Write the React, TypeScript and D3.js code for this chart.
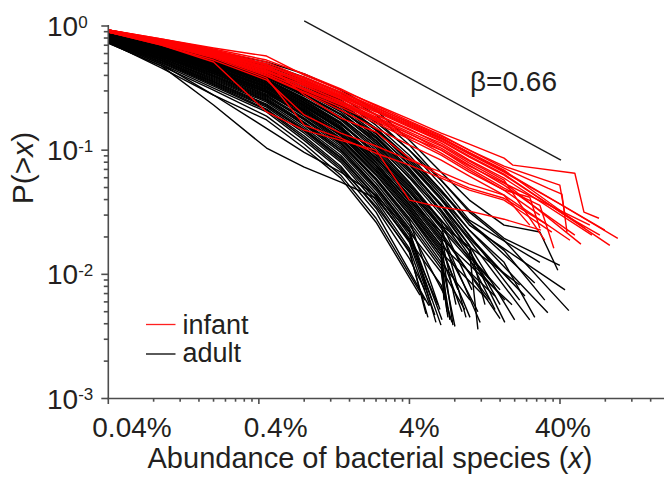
import React from 'react';
import * as d3 from 'd3';

const FONT = '"Liberation Sans", Arial, Helvetica, sans-serif';
const TEXT = '#231f20';
const AXIS = '#4d4d4d';

// x tick labels (abundance, %)
const xMajorValues = [0.04, 0.4, 4, 40];
const xTickLabels = ['0.04%', '0.4%', '4%', '40%'];
// y tick labels
const yMajorValues = [1, 0.1, 0.01, 0.001];
const yExponents = ['0', '-1', '-2', '-3'];

// common abundance grid (%) at which the CCDF curves were read
const gridAbundance = [0.04, 0.09, 0.2, 0.45, 0.8, 1.4, 2.4, 4, 6.5, 10, 17];

// adult curves: P(>x) on the grid
const adultP: number[][] = [
  [.928, .756, .629, .513, .411, .305, .210, .120, .0665, .0396, .0249],
  [.911, .743, .606, .494, .388, .289, .192, .110, .0573, .0317, .0188],
  [.911, .729, .595, .477, .367, .268, .175, .100, .0523, .0273],
  [.894, .716, .573, .459, .354, .253, .159, .0911, .0476, .0249],
  [.894, .716, .563, .442, .335, .240, .150, .0831, .0434, .0227],
  [.878, .703, .552, .426, .316, .222, .137, .0757, .0396, .0207],
  [.894, .690, .532, .411, .305, .210, .130, .0716, .0360, .0188],
  [.878, .690, .542, .402, .294, .203, .120, .0665, .0329, .0156],
  [.862, .677, .523, .395, .283, .195, .114, .0595, .0300, .0142],
  [.878, .677, .513, .381, .273, .185, .108, .0553, .0273, .0134],
  [.862, .665, .513, .374, .263, .175, .100, .0523, .0249],
  [.846, .653, .504, .367, .253, .168, .0945, .0476, .0235],
  [.862, .653, .494, .354, .249, .165, .0911, .0459, .0219],
  [.846, .641, .485, .347, .240, .156, .0862, .0434, .0207],
  [.846, .641, .477, .335, .231, .150, .0831, .0410, .0195],
  [.830, .629, .468, .328, .227, .145, .0786, .0396, .0188],
  [.846, .629, .459, .322, .218, .140, .0743, .0360, .0171],
  [.830, .617, .451, .316, .210, .135, .0716, .0347, .0162],
  [.830, .617, .442, .305, .203, .130, .0690, .0329, .0150],
  [.815, .606, .434, .299, .199, .125, .0665, .0317, .0142],
  [.830, .606, .426, .294, .192, .120, .0629, .0300, .0134],
  [.815, .595, .418, .289, .188, .116, .0595, .0283, .0125],
  [.815, .584, .411, .278, .181, .112, .0573, .0263, .0118],
  [.800, .584, .402, .273, .175, .108, .0542, .0249, .0111],
  [.800, .573, .395, .263, .168, .104, .0513, .0235],
  [.800, .563, .388, .258, .165, .100, .0494, .0219],
  [.785, .552, .381, .253, .159, .096, .0476, .0207],
  [.785, .552, .367, .244, .153, .0911, .0450, .0195],
  [.771, .542, .360, .235, .148, .0878, .0426, .0181],
  [.771, .532, .354, .231, .142, .0831, .0396, .0162],
  [.756, .523, .341, .222, .137, .0801, .0374, .0150],
  [.756, .513, .335, .214, .130, .0743, .0341, .0134],
  [.743, .494, .316, .203, .120, .0690, .0317],
  [.729, .477, .305, .188, .112, .0629, .0283],
  [.729, .477, .231, .104, .0729, .0553, .0410, .0188, .0082],
  [.743, .494, .278, .150, .096, .0665, .0434, .0219, .0104],
  [.743, .459, .278, .175, .104, .0595, .0263],
  [.894, .703, .563, .434, .328, .235, .145, .0801, .0410, .0203],
  [.878, .677, .532, .418, .311, .214, .127, .0690, .0354, .0171],
  [.862, .665, .504, .388, .278, .192, .118, .0629, .0317, .0156],
  [.846, .665, .513, .367, .258, .178, .104, .0542, .0263],
  [.846, .641, .494, .360, .244, .162, .096, .0494, .0245],
  [.830, .641, .477, .341, .235, .153, .0878, .0426, .0203],
  [.830, .617, .459, .322, .222, .148, .0801, .0382, .0181],
  [.815, .595, .442, .311, .214, .140, .0757, .0367, .0168],
  [.815, .606, .426, .294, .207, .132, .0690, .0335, .0156],
  [.800, .573, .411, .283, .195, .123, .0641, .0305, .0142],
  [.800, .573, .395, .268, .178, .114, .0584, .0273],
  [.785, .552, .374, .249, .162, .100, .0503, .0227],
  [.771, .532, .347, .227, .145, .0862, .0418, .0188],
  [.756, .504, .328, .210, .125, .0716, .0354, .0156],
  [.878, .690, .552, .442, .341, .249, .168, .100, .0573, .0329, .0195],
  [.862, .665, .532, .418, .316, .227, .150, .0862, .0476, .0263],
  [.878, .703, .542, .418, .316, .227, .145, .0831, .0459, .0263, .0156],
  [.862, .677, .532, .402, .299, .210, .135, .0771, .0410, .0227, .0125],
  [.846, .665, .513, .388, .283, .195, .125, .0690, .0367, .0195],
  [.862, .653, .494, .367, .263, .181, .110, .0606, .0329, .0171],
  [.830, .641, .477, .347, .240, .162, .096, .0513, .0273, .0156],
  [.815, .617, .459, .328, .227, .150, .0862, .0459, .0245],
  [.815, .606, .442, .305, .207, .135, .0757, .0396, .0219],
];

// adult curves: last points [abundance %, P] beyond the grid
const adultTail: number[][][] = [
  [[29.4, .0219], [38.7, .0108]],
  [[45.8, .0051]],
  [[29.4, .0125]],
  [[43.2, .0075]],
  [[33.2, .0049]],
  [[21.6, .0062]],
  [[25.2, .0043]],
  [[17.2, .0041]],
  [[16.0, .0075]],
  [[14.8, .0052]],
  [[21.6, .0082]],
  [[17.2, .0062]],
  [[16.0, .0044]],
  [[13.7, .0062]],
  [[19.2, .0057]],
  [[11.4, .0050]],
  [[14.8, .0067]],
  [[10.1, .0045]],
  [[13.3, .0062]],
  [[8.94, .0050]],
  [[8.02, .0038]],
  [[10.1, .0062]],
  [[7.43, .0043]],
  [[9.33, .0052]],
  [[6.89, .0067]],
  [[6.58, .0043]],
  [[6.48, .0039]],
  [[6.18, .0057]],
  [[5.90, .0047]],
  [[5.47, .0056]],
  [[5.31, .0045]],
  [[5.07, .0075]],
  [[5.39, .0056]],
  [[5.07, .0062]],
  [[7.66, .0041]],
  [[7.21, .0045]],
  [[4.70, .0068]],
  [[18.6, .0090]],
  [[12.7, .0057]],
  [[11.4, .0036]],
  [[10.4, .0075]],
  [[9.5, .0045]],
  [[8.15, .0057]],
  [[7.78, .0039]],
  [[8.40, .0075]],
  [[7.10, .0050]],
  [[6.78, .0062]],
  [[6.38, .0052]],
  [[6.00, .0041]],
  [[5.64, .0062]],
  [[5.15, .0048]],
  [[39.9, .0118]],
  [[27.2, .0085]],
  [[31.7, .0062]],
  [[27.2, .0045]],
  [[23.4, .0067]],
  [[20.0, .0043]],
  [[16.0, .0057]],
  [[14.1, .0087]],
  [[11.8, .0041]],
];

// infant curves: P(>x) on the grid
const infantP: number[][] = [
  [.928, .785, .665, .573, .402, .305, .231, .178, .137, .112, .0862],
  [.928, .771, .641, .513, .381, .289, .218, .168, .130, .100, .0716],
  [.911, .771, .629, .485, .367, .278, .210, .159, .123, .0928, .0665],
  [.911, .756, .617, .468, .354, .268, .203, .153, .118, .0878, .0629],
  [.928, .756, .606, .459, .341, .258, .192, .145, .114, .0831, .0595],
  [.911, .743, .595, .442, .328, .249, .185, .140, .108, .0786, .0553],
  [.911, .743, .584, .434, .316, .240, .178, .135, .104, .0757, .0523],
  [.894, .729, .584, .418, .305, .231, .171, .127, .100, .0716, .0494],
  [.894, .703, .513, .203, .145, .120, .100, .0396, .0347, .0323, .0278],
  [.894, .729, .573, .402, .294, .222, .165, .123, .0911, .0665, .0476],
  [.911, .743, .595, .426, .335, .244, .181, .135, .100, .0743, .0542],
  [.894, .703, .532, .367, .192, .137, .108, .0831, .0665, .0532, .0434],
  [.911, .716, .552, .381, .159, .125, .0945, .0757, .0595, .0476, .0396],
  [.928, .771, .641, .494, .374, .283, .214, .162, .125, .096, .0690],
  [.911, .756, .606, .451, .347, .263, .195, .148, .110, .0816, .0573],
  [.928, .771, .629, .477, .388, .294, .222, .165, .127, .0945, .0677],
  [.894, .716, .563, .395, .289, .210, .150, .110, .0831, .0618, .0434],
  [.911, .756, .617, .459, .360, .273, .207, .156, .120, .0894, .0641],
  [.928, .785, .653, .532, .411, .311, .227, .171, .132, .100, .0743],
  [.894, .729, .573, .411, .311, .235, .175, .130, .0945, .0690, .0476],
  [.911, .743, .606, .494, .278, .181, .140, .0862, .0618, .0494, .0410],
];

// infant curves: last points [abundance %, P]
const infantTail: number[][][] = [
  [[19.5, .0757], [50.2, .0652], [57.7, .0317], [72.6, .0283]],
  [[33.2, .0494], [41.2, .0442], [44.5, .0219]],
  [[41.2, .0360], [96.8, .0195]],
  [[43.2, .0300], [73.6, .0207]],
  [[65.2, .0207]],
  [[55.1, .0175]],
  [[50.2, .0207]],
  [[29.4, .0360], [36.4, .0162]],
  [[29.9, .0227]],
  [[25.2, .0418], [29.4, .0235]],
  [[63.2, .0249]],
  [[46.6, .0188]],
  [[35.3, .0219]],
  [[58.6, .0235]],
  [[31.7, .0188]],
  [[79.4, .0227]],
  [[25.2, .0249]],
  [[85.7, .0171]],
  [[39.9, .0523], [43.2, .0300]],
  [[29.4, .0300]],
  [[33.2, .0249]],
];

// reference slope line beta = 0.66
const slopeLine = [[0.8, 1.1], [40.6, 0.083]];
const slopeLabel = 'β=0.66';

const legendNames = ['infant', 'adult'];
const legendColors = ['#ff2020', '#000000'];

export default function App() {
  const W = 664;
  const H = 477;
  const x = d3.scaleLog().domain([0.04, 40]).range([108.3, 560]);
  const y = d3.scaleLog().domain([0.001, 1]).range([398.5, 26]);
  const xLab = d3.scaleLog().domain([0.04, 40]).range([132, 563]);
  const line = d3.line<number[]>().x((d) => x(d[0])).y((d) => y(d[1]));

  const build = (ps: number[][], tails: number[][][]) =>
    ps.map((row, i) => row.map((p, j) => [gridAbundance[j], p]).concat(tails[i]));
  const adult = build(adultP, adultTail);
  const infant = build(infantP, infantTail);

  const axisY = y(0.001);
  const axisX = x(0.04);
  const xEnd = W;

  const xMinor: number[] = [];
  [0.04, 0.4, 4, 40, 400].forEach((m) => {
    for (let k = 2; k <= 9; k++) {
      const v = m * k;
      if (x(v) <= xEnd) xMinor.push(v);
    }
  });
  const isMajor = (v: number) => Math.abs(Math.log10(v) - Math.round(Math.log10(v))) < 1e-6;
  const yMinor = y.ticks().filter((v) => !isMajor(v));

  return (
    <svg
      width={W}
      height={H}
      style={{ position: 'absolute', left: 0, top: 0, background: '#fff' }}
      fontFamily={FONT}
    >
      <rect x={0} y={0} width={W} height={H} fill="#fff" />
      <g fill="none" strokeWidth={1.4} strokeLinejoin="round">
        {adult.map((pts, i) => (
          <path key={'a' + i} d={line(pts) || ''} stroke="#000" />
        ))}
        {infant.map((pts, i) => (
          <path key={'i' + i} d={line(pts) || ''} stroke="#ff0000" />
        ))}
      </g>
      <path d={line(slopeLine) || ''} stroke="#1a1a1a" strokeWidth={1.4} fill="none" />
      <text x={470} y={91} fontSize={28} fill={TEXT}>{slopeLabel}</text>

      {/* axes */}
      <g stroke={AXIS} strokeWidth={1.6}>
        <line x1={axisX} x2={axisX} y1={y(1) - 1} y2={axisY + 0.8} />
        <line x1={axisX - 0.8} x2={xEnd} y1={axisY} y2={axisY} />
        {xMajorValues.map((v) => (
          <line key={'xm' + v} x1={x(v)} x2={x(v)} y1={axisY} y2={axisY + 5.5} />
        ))}
        {xMinor.map((v, i) => (
          <line key={'xn' + i} x1={x(v)} x2={x(v)} y1={axisY} y2={axisY + 3.2} />
        ))}
        {yMajorValues.map((v) => (
          <line key={'ym' + v} x1={axisX - 7} x2={axisX} y1={y(v)} y2={y(v)} />
        ))}
        {yMinor.map((v, i) => (
          <line key={'yn' + i} x1={axisX - 4.5} x2={axisX} y1={y(v)} y2={y(v)} />
        ))}
      </g>

      {/* x tick labels */}
      {xMajorValues.map((v, i) => (
        <text key={'xl' + i} x={xLab(v)} y={437} fontSize={28} fill={TEXT} textAnchor="middle">
          {xTickLabels[i]}
        </text>
      ))}
      {/* y tick labels */}
      {yMajorValues.map((v, i) => (
        <text key={'yl' + i} x={47} y={y(v) + 10} fontSize={28} fill={TEXT}>
          10
          <tspan fontSize={17} dy={-8.5}>{yExponents[i]}</tspan>
        </text>
      ))}

      {/* axis titles */}
      <text x={370} y={468} fontSize={29} fill={TEXT} textAnchor="middle">
        Abundance of bacterial species (<tspan fontStyle="italic">x</tspan>)
      </text>
      <text
        transform={`translate(33,168) rotate(-90)`}
        fontSize={30}
        fill={TEXT}
        textAnchor="middle"
      >
        P(&gt;<tspan fontStyle="italic">x</tspan>)
      </text>

      {/* legend */}
      {legendNames.map((n, i) => (
        <g key={'lg' + n}>
          <line
            x1={146}
            x2={175.5}
            y1={324.5 + i * 29.5}
            y2={324.5 + i * 29.5}
            stroke={legendColors[i]}
            strokeWidth={1.3}
          />
          <text x={182.5} y={333.5 + i * 28} fontSize={27} fill={TEXT}>
            {n}
          </text>
        </g>
      ))}
    </svg>
  );
}
